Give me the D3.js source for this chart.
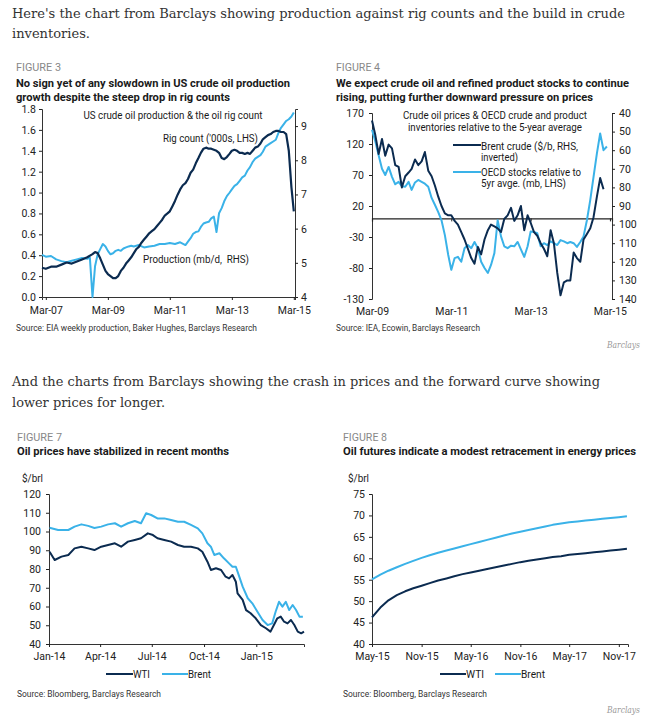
<!DOCTYPE html>
<html>
<head>
<meta charset="utf-8">
<script src="https://cdn.jsdelivr.net/npm/d3@7"></script>
<style>
  body { margin: 0; background: #fff; }
  svg { display: block; }
</style>
</head>
<body>
<svg id="page" width="660" height="720"></svg>
<script>
var SANS = "Roboto, 'Liberation Sans', sans-serif";
var SERIF = "'DejaVu Serif', Georgia, serif";
var DARK = "#0b2b50", LIGHT = "#3ab2e8";
var pm = d3.timeParse("%Y-%m"), pd = d3.timeParse("%Y-%m-%d");

// ---- Figure 3: rig count (LHS, '000s) and production (RHS, mb/d)
var rigDates = ["2007-01-15","2007-03","2007-05","2007-07","2007-09","2007-11","2008-01","2008-03","2008-05","2008-07",
  "2008-09","2008-10","2008-11","2008-12","2009-01","2009-02","2009-03","2009-04","2009-05","2009-06","2009-07","2009-08",
  "2009-09","2009-10","2009-11","2009-12","2010-01","2010-02","2010-03","2010-04","2010-05","2010-06","2010-07","2010-08",
  "2010-09","2010-10","2010-11","2010-12","2011-01","2011-02","2011-03","2011-04","2011-05","2011-06","2011-07","2011-08",
  "2011-09","2011-10","2011-11","2011-12","2012-01","2012-02","2012-03","2012-04","2012-05","2012-06","2012-07","2012-08",
  "2012-09","2012-10","2012-11","2012-12","2013-01","2013-02","2013-03","2013-04","2013-05","2013-06","2013-07","2013-08",
  "2013-09","2013-10","2013-11","2013-12","2014-01","2014-02","2014-03","2014-04","2014-05","2014-06","2014-07","2014-08",
  "2014-09","2014-10","2014-11","2014-12","2015-01","2015-02","2015-03"];
var rigCount = [0.28,0.27,0.29,0.29,0.31,0.33,0.32,0.34,0.36,0.38,
  0.41,0.43,0.42,0.37,0.31,0.25,0.22,0.20,0.18,0.18,0.20,0.25,
  0.28,0.32,0.35,0.38,0.42,0.46,0.48,0.52,0.55,0.58,0.61,0.63,
  0.65,0.68,0.71,0.74,0.78,0.80,0.82,0.87,0.92,0.98,1.03,1.07,
  1.09,1.13,1.19,1.22,1.28,1.33,1.38,1.42,1.43,1.42,1.42,1.41,
  1.40,1.38,1.33,1.32,1.34,1.37,1.40,1.41,1.40,1.38,1.38,1.37,
  1.38,1.37,1.40,1.43,1.44,1.47,1.51,1.53,1.55,1.56,1.58,1.59,
  1.59,1.58,1.58,1.56,1.40,1.05,0.82];
var prodDates = ["2007-01-15","2007-03","2007-05","2007-07","2007-09","2007-11","2008-01","2008-03","2008-05","2008-07",
  "2008-08","2008-09","2008-10","2008-11","2008-12","2009-01","2009-02","2009-03","2009-04","2009-05","2009-06","2009-07",
  "2009-08","2009-09","2009-10","2009-11","2009-12","2010-01","2010-03","2010-05","2010-07","2010-09","2010-11","2011-01",
  "2011-03","2011-05","2011-07","2011-09","2011-10","2011-11","2011-12","2012-01","2012-02","2012-03","2012-04","2012-05",
  "2012-06","2012-07","2012-08","2012-09","2012-10","2012-11","2012-12","2013-01","2013-02","2013-03","2013-04","2013-05",
  "2013-06","2013-07","2013-08","2013-09","2013-10","2013-11","2013-12","2014-01","2014-02","2014-03","2014-04","2014-05",
  "2014-06","2014-07","2014-08","2014-09","2014-10","2014-11","2014-12","2015-01","2015-02","2015-03"];
var prodValues = [5.23,5.18,5.20,5.10,5.05,5.02,5.06,5.10,5.14,5.12,
  5.15,4.00,4.90,5.25,5.40,5.55,5.48,5.35,5.25,5.28,5.35,5.38,
  5.35,5.42,5.45,5.48,5.50,5.48,5.52,5.45,5.48,5.50,5.55,5.55,
  5.58,5.55,5.60,5.52,5.62,5.72,5.85,5.90,5.92,6.05,6.15,6.18,
  6.20,6.30,6.35,5.90,6.45,6.60,6.80,6.95,7.05,7.15,7.25,7.30,
  7.40,7.50,7.55,7.70,7.80,7.95,8.05,8.10,8.15,8.25,8.40,8.45,
  8.50,8.55,8.60,8.80,8.95,9.05,9.15,9.20,9.28,9.40];
var fig3Ticks = ["2007-03","2009-03","2011-03","2013-03","2015-03"];

// ---- Figure 4: Brent (RHS inverted, $/b) and OECD stocks vs 5yr avg (LHS, mb), monthly
var brentStart = "2009-03";
var brentValues = [44,52,62,54,63,57,59,68,69,80,
  74,72,70,65,68,66,61,71,74,79,85,90,
  94,95,95,98,100,104,108,113,118,121,112,116,
  108,103,100,101,102,104,97,95,91,98,95,90,
  103,95,99,104,106,110,113,117,103,110,126,138,
  131,130,130,115,118,120,108,105,102,96,85,75,
  81];
var oecdStart = "2009-03";
var oecdValues = [143,124,102,80,70,83,67,55,59,52,
  51,59,46,58,62,59,56,51,33,22,10,-3,
  -27,-59,-83,-64,-62,-70,-48,-43,-48,-38,-48,-70,
  -80,-88,-75,-56,-3,-29,-45,-48,-44,-45,-38,-50,
  -62,-45,-21,-22,-24,-45,-40,-43,-37,-40,-43,-35,
  -37,-40,-38,-40,-46,-38,-29,-3,30,67,105,137,
  110,116];
var fig4Ticks = ["2009-03","2011-03","2013-03","2015-03"];

// ---- Figure 7: spot prices, $/brl
var wtiDates7 = ["2014-01-02","2014-01-11","2014-01-23","2014-02-04","2014-02-15","2014-02-27","2014-03-11","2014-03-22",
  "2014-04-03","2014-04-15","2014-04-27","2014-05-08","2014-05-20","2014-06-01","2014-06-12","2014-06-24","2014-07-03",
  "2014-07-11","2014-07-23","2014-08-04","2014-08-16","2014-08-27","2014-09-08","2014-09-20","2014-09-28","2014-10-07",
  "2014-10-13","2014-10-22","2014-10-31","2014-11-08","2014-11-14","2014-11-20","2014-11-26","2014-11-29","2014-12-08",
  "2014-12-14","2014-12-22","2014-12-31","2015-01-09","2015-01-18","2015-01-26","2015-02-01","2015-02-07","2015-02-13",
  "2015-02-19","2015-02-25","2015-03-03","2015-03-09","2015-03-15","2015-03-21","2015-03-26"];
var wtiValues7 = [89.2,84.8,86.6,87.5,91,91.9,91,90.1,
  91.9,92.8,93.7,91.9,94.6,95.5,96.4,99,98.1,
  96.4,95.5,94.6,92.8,91.9,91.9,91,89.2,83.9,
  79.5,80.4,79.5,75.9,75,76.8,73.2,67,63.5,
  58.1,56.4,53.7,50.1,48.4,46.6,50.1,53.7,54.6,
  51.9,51,52.8,50.1,46.6,45.7,46.6];
var brentDates7 = ["2014-01-02","2014-01-17","2014-02-04","2014-02-15","2014-02-27","2014-03-11","2014-03-22","2014-04-03",
  "2014-04-15","2014-04-27","2014-05-08","2014-05-20","2014-06-01","2014-06-12","2014-06-21","2014-06-30","2014-07-11",
  "2014-07-23","2014-08-04","2014-08-16","2014-08-27","2014-09-08","2014-09-20","2014-09-28","2014-10-07","2014-10-13",
  "2014-10-19","2014-10-28","2014-11-05","2014-11-14","2014-11-20","2014-11-26","2014-12-02","2014-12-08","2014-12-17",
  "2014-12-25","2015-01-03","2015-01-12","2015-01-21","2015-01-29","2015-02-04","2015-02-10","2015-02-16","2015-02-22",
  "2015-02-28","2015-03-06","2015-03-12","2015-03-18","2015-03-24"];
var brentValues7 = [102,100.8,100.8,102.6,103.8,103,101.9,102.6,
  103.8,104.4,102.6,104.4,105.6,104.4,109.7,108.8,107,
  107,106.1,105.2,105.2,103.5,101.7,99,93.7,91.9,
  87.5,88.4,85.7,83,81.2,81.2,75.9,70.6,64.4,
  61.7,57.2,52.8,50.1,51,57.2,62.5,59.9,62.5,
  58.1,60.8,58.1,54.6,54.6];
var fig7Ticks = ["2014-01-01","2014-04-01","2014-07-01","2014-10-01","2015-01-01"];

// ---- Figure 8: futures curves, $/brl, monthly from May-15
var curveStart = "2015-05";
var wtiCurve = [46.2,48.5,50.2,51.4,52.3,53.0,53.6,54.2,54.8,55.3,55.8,56.3,56.7,57.1,57.5,57.9,
  58.3,58.7,59.1,59.4,59.7,60.0,60.3,60.5,60.8,61.0,61.2,61.4,61.6,61.8,62.0,62.2];
var brentCurve = [55.1,56.2,57.1,57.9,58.7,59.4,60.1,60.7,61.3,61.8,62.3,62.8,63.3,63.8,64.3,64.8,
  65.3,65.8,66.2,66.6,67.0,67.4,67.8,68.1,68.4,68.6,68.8,69.0,69.2,69.4,69.6,69.8];
var fig8Ticks = ["2015-05","2015-11","2016-05","2016-11","2017-05","2017-11"];

var svg = d3.select("#page");
svg.append("rect").attr("width", 660).attr("height", 720).attr("fill", "#fff");

// plain integer labels with an ASCII hyphen for negatives, as in the source
var intFmt = function(d) { return String(d); };

function label(x, y, s, size, opt) {
  opt = opt || {};
  var t = svg.append("text").attr("x", x).attr("y", y).text(s)
    .attr("font-size", size)
    .attr("fill", opt.fill || "#1a1a1a")
    .attr("font-family", opt.family || SANS)
    .attr("text-anchor", opt.anchor || "start");
  if (opt.weight) t.attr("font-weight", opt.weight);
  if (opt.italic) t.attr("font-style", "italic");
  if (opt.w) t.attr("textLength", opt.w).attr("lengthAdjust", "spacingAndGlyphs");
  return t;
}

function styleAxis(g) {
  g.attr("font-family", SANS).attr("font-size", 10.5).attr("color", "#222");
  g.selectAll("path.domain").attr("stroke", "#333");
  return g;
}

function parseAny(s) { return s.length > 7 ? pd(s) : pm(s); }

function drawLine(data, x, y, color, w) {
  svg.append("path")
    .datum(data)
    .attr("fill", "none")
    .attr("stroke", color)
    .attr("stroke-width", w || 2)
    .attr("stroke-linejoin", "round")
    .attr("d", d3.line().x(function(d) { return x(d[0]); }).y(function(d) { return y(d[1]); }));
}

function monthly(start, values) {
  var s = pm(start);
  return values.map(function(v, i) { return [d3.timeMonth.offset(s, i), v]; });
}

// ---------- text paragraphs
label(12, 18, "Here's the chart from Barclays showing production against rig counts and the build in crude", 13.5,
  { family: SERIF, fill: "#333", w: 613 });
label(12, 38, "inventories.", 13.5, { family: SERIF, fill: "#333", w: 78 });
label(12, 386, "And the charts from Barclays showing the crash in prices and the forward curve showing", 13.5,
  { family: SERIF, fill: "#333", w: 588 });
label(12, 407, "lower prices for longer.", 13.5, { family: SERIF, fill: "#333", w: 153 });
label(640, 348, "Barclays", 9, { family: SERIF, fill: "#999", italic: true, anchor: "end", w: 33 });
label(640, 713, "Barclays", 9, { family: SERIF, fill: "#999", italic: true, anchor: "end", w: 33 });

// ---------- Figure 3
label(16, 71, "FIGURE 3", 11, { fill: "#888", w: 45 });
label(16, 86.5, "No sign yet of any slowdown in US crude oil production", 11, { weight: "bold", w: 274 });
label(16, 101, "growth despite the steep drop in rig counts", 11, { weight: "bold", w: 214 });

var x3 = d3.scaleTime().domain([pd("2007-01-15"), pd("2015-03-15")]).range([42, 295]);
var yL3 = d3.scaleLinear().domain([0, 1.8]).range([297, 109]);
var yR3 = d3.scaleLinear().domain([4, 9.5]).range([297, 109]);

styleAxis(svg.append("g").attr("transform", "translate(42,0)")
  .call(d3.axisLeft(yL3).tickValues(d3.range(0, 1.81, 0.2)).tickFormat(d3.format(".1f")).tickSize(3).tickPadding(3)));
styleAxis(svg.append("g").attr("transform", "translate(295,0)")
  .call(d3.axisRight(yR3).tickValues([4, 5, 6, 7, 8, 9]).tickFormat(intFmt).tickSize(3).tickPadding(3)));
styleAxis(svg.append("g").attr("transform", "translate(0,297)")
  .call(d3.axisBottom(x3).tickValues(fig3Ticks.map(pm)).tickFormat(d3.timeFormat("%b-%y")).tickSize(3).tickPadding(7)));

drawLine(d3.zip(prodDates.map(parseAny), prodValues), x3, yR3, LIGHT, 2);
drawLine(d3.zip(rigDates.map(parseAny), rigCount), x3, yL3, DARK, 2.2);

label(173, 118.5, "US crude oil production & the oil rig count", 10.5, { anchor: "middle", w: 179 });
label(163, 141.5, "Rig count ('000s, LHS)", 10.5, { w: 95 });
label(143, 262.5, "Production (mb/d,\u00a0 RHS)", 10.5, { w: 106 });
label(16, 331, "Source: EIA weekly production, Baker Hughes, Barclays Research", 9, { fill: "#333", w: 241 });

// ---------- Figure 4
label(336, 71, "FIGURE 4", 11, { fill: "#888", w: 44 });
label(336, 86.5, "We expect crude oil and refined product stocks to continue", 11, { weight: "bold", w: 293 });
label(336, 101, "rising, putting further downward pressure on prices", 11, { weight: "bold", w: 257 });

var x4 = d3.scaleTime().domain([pm("2009-03"), pd("2015-03-20")]).range([372, 612]);
var yL4 = d3.scaleLinear().domain([-130, 170]).range([299, 113]);
var yR4 = d3.scaleLinear().domain([40, 140]).range([113, 299]);

styleAxis(svg.append("g").attr("transform", "translate(372,0)")
  .call(d3.axisLeft(yL4).tickValues([-130, -80, -30, 20, 70, 120, 170]).tickFormat(intFmt).tickSize(3).tickPadding(5)));
styleAxis(svg.append("g").attr("transform", "translate(612,0)")
  .call(d3.axisRight(yR4).tickValues(d3.range(40, 141, 10)).tickFormat(intFmt).tickSize(3).tickPadding(4)));
styleAxis(svg.append("g").attr("transform", "translate(0," + yL4(0) + ")")
  .call(d3.axisBottom(x4).tickValues(fig4Ticks.map(pm)).tickFormat("").tickSize(3)))
  .selectAll("path.domain").attr("stroke", "#222").attr("stroke-width", 1.2);
var xl4 = styleAxis(svg.append("g").attr("transform", "translate(0,299)")
  .call(d3.axisBottom(x4).tickValues(fig4Ticks.map(pm)).tickFormat(d3.timeFormat("%b-%y")).tickSize(0).tickPadding(9)));
xl4.select("path.domain").remove();

drawLine(monthly(oecdStart, oecdValues), x4, yL4, LIGHT, 2);
drawLine(monthly(brentStart, brentValues), x4, yR4, DARK, 2);

label(495, 118.5, "Crude oil prices & OECD crude and product", 10.5, { anchor: "middle", w: 184 });
label(495, 130.5, "inventories relative to the 5-year average", 10.5, { anchor: "middle", w: 174 });
svg.append("line").attr("x1", 453).attr("x2", 481).attr("y1", 145).attr("y2", 145).attr("stroke", DARK).attr("stroke-width", 2);
svg.append("line").attr("x1", 453).attr("x2", 481).attr("y1", 172).attr("y2", 172).attr("stroke", LIGHT).attr("stroke-width", 2);
label(481, 149.5, "Brent crude ($/b, RHS,", 10.5, { w: 97 });
label(481, 161, "inverted)", 10.5, { w: 37 });
label(481, 175.5, "OECD stocks relative to", 10.5, { w: 100 });
label(481, 187, "5yr avge. (mb, LHS)", 10.5, { w: 85 });
label(336, 331, "Source: IEA, Ecowin, Barclays Research", 9, { fill: "#333", w: 144 });

// ---------- Figure 7
label(17, 441, "FIGURE 7", 11, { fill: "#888", w: 45 });
label(17, 455, "Oil prices have stabilized in recent months", 11, { weight: "bold", w: 212 });
label(22, 482, "$/brl", 10, { w: 21 });

var x7 = d3.scaleTime().domain([pd("2014-01-01"), pd("2015-03-26")]).range([49, 304]);
var y7 = d3.scaleLinear().domain([40, 120]).range([644, 494]);

styleAxis(svg.append("g").attr("transform", "translate(49,0)")
  .call(d3.axisLeft(y7).tickValues(d3.range(40, 121, 10)).tickFormat(intFmt).tickSize(3).tickPadding(5)));
styleAxis(svg.append("g").attr("transform", "translate(0,644)")
  .call(d3.axisBottom(x7).tickValues(fig7Ticks.map(pd)).tickFormat(d3.timeFormat("%b-%y")).tickSize(3).tickPadding(6)));

drawLine(d3.zip(brentDates7.map(pd), brentValues7), x7, y7, LIGHT, 2);
drawLine(d3.zip(wtiDates7.map(pd), wtiValues7), x7, y7, DARK, 2);

svg.append("line").attr("x1", 106).attr("x2", 133).attr("y1", 674).attr("y2", 674).attr("stroke", DARK).attr("stroke-width", 2);
label(133, 678, "WTI", 10.5, { w: 17 });
svg.append("line").attr("x1", 162).attr("x2", 188).attr("y1", 674).attr("y2", 674).attr("stroke", LIGHT).attr("stroke-width", 2);
label(188, 678, "Brent", 10.5, { w: 23 });
label(17, 697, "Source: Bloomberg, Barclays Research", 9, { fill: "#333", w: 144 });

// ---------- Figure 8
label(343, 441, "FIGURE 8", 11, { fill: "#888", w: 44 });
label(343, 455, "Oil futures indicate a modest retracement in energy prices", 11, { weight: "bold", w: 293 });
label(348, 482, "$/brl", 10, { w: 21 });

var x8 = d3.scaleTime().domain([pm("2015-05"), pd("2017-12-05")]).range([372, 628]);
var y8 = d3.scaleLinear().domain([40, 75]).range([644, 494]);

styleAxis(svg.append("g").attr("transform", "translate(372,0)")
  .call(d3.axisLeft(y8).tickValues(d3.range(40, 76, 5)).tickFormat(intFmt).tickSize(3).tickPadding(4)));
styleAxis(svg.append("g").attr("transform", "translate(0,644)")
  .call(d3.axisBottom(x8).tickValues(fig8Ticks.map(pm)).tickFormat(d3.timeFormat("%b-%y")).tickSize(3).tickPadding(6)));

drawLine(monthly(curveStart, brentCurve), x8, y8, LIGHT, 2);
drawLine(monthly(curveStart, wtiCurve), x8, y8, DARK, 2);

svg.append("line").attr("x1", 440).attr("x2", 466).attr("y1", 674).attr("y2", 674).attr("stroke", DARK).attr("stroke-width", 2);
label(466, 678, "WTI", 10.5, { w: 18 });
svg.append("line").attr("x1", 495).attr("x2", 521).attr("y1", 674).attr("y2", 674).attr("stroke", LIGHT).attr("stroke-width", 2);
label(521, 678, "Brent", 10.5, { w: 24 });
label(343, 697, "Source: Bloomberg, Barclays Research", 9, { fill: "#333", w: 144 });
</script>
</body>
</html>
